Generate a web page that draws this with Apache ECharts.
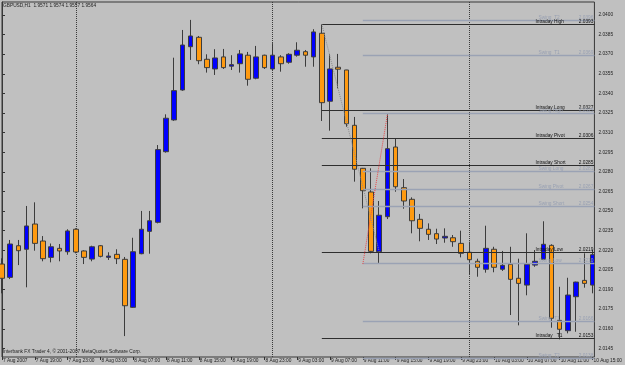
<!DOCTYPE html>
<html><head><meta charset="utf-8">
<script src="https://cdn.jsdelivr.net/npm/echarts@6/dist/echarts.min.js"></script>
<style>html,body{margin:0;padding:0;background:#C0C0C0}#c{width:625px;height:365px}</style>
</head><body><div id="c"></div>
<script>
// ---- data (GBPUSD H1, bars from 7 Aug 15:00 to 10 Aug 15:00) ----
const opens = [2.02095,2.01993,2.02235,2.02208,2.02401,2.02271,2.02146,2.02215,2.02189,2.02361,
2.02195,2.02133,2.02235,2.02146,2.02169,2.02131,2.01764,2.02174,2.02345,2.02414,
2.02954,2.03197,2.03426,2.03757,2.03829,2.03661,2.03587,2.03679,2.03608,2.03627,
2.03692,2.03516,2.03692,2.03587,2.03679,2.03638,2.03692,2.03719,2.03679,2.03860,
2.03340,2.03600,2.03579,2.03156,2.02827,2.02646,2.02189,2.02457,2.02990,2.02679,
2.02590,2.02437,2.02361,2.02327,2.02294,2.02296,2.02253,2.02185,2.02116,2.02055,
2.02208,2.02055,2.02093,2.01986,2.01934,2.02087,2.02131,2.02238,2.01664,2.01585,
2.01845,2.01970,2.01934];
const closes = [2.01986,2.02248,2.02197,2.02386,2.02253,2.02136,2.02227,2.02195,2.02348,2.02187,
2.02146,2.02227,2.02154,2.02156,2.02136,2.01776,2.02189,2.02361,2.02426,2.02970,
2.03210,2.03421,2.03770,2.03839,2.03650,2.03597,2.03671,2.03597,2.03620,2.03702,
2.03508,2.03679,2.03597,2.03692,2.03627,2.03699,2.03730,2.03692,2.03870,2.03329,
2.03587,2.03585,2.03168,2.02820,2.02656,2.02192,2.02468,2.02977,2.02686,2.02577,
2.02426,2.02368,2.02322,2.02286,2.02307,2.02266,2.02177,2.02128,2.02070,2.02215,
2.02070,2.02085,2.01978,2.01947,2.02093,2.02116,2.02246,2.01680,2.01596,2.01858,
2.01957,2.01947,2.02166];
const lows = [2.01871,2.01980,2.02087,2.01917,2.02197,2.02116,2.02108,2.02116,2.02166,2.02177,
2.02095,2.02116,2.02146,2.02126,2.02095,2.01544,2.01760,2.02170,2.02174,2.02406,
2.02947,2.03190,2.03420,2.03656,2.03623,2.03559,2.03541,2.03587,2.03579,2.03559,
2.03459,2.03508,2.03587,2.03580,2.03566,2.03627,2.03681,2.03604,2.03604,2.03189,
2.03115,2.03439,2.03145,2.02725,2.02521,2.02177,2.02101,2.02439,2.02648,2.02518,
2.02330,2.02269,2.02279,2.02248,2.02258,2.02227,2.02146,2.02011,2.01998,2.02029,
2.02032,2.02042,2.01705,2.01626,2.01856,2.02074,2.02125,2.01608,2.01519,2.01565,
2.01577,2.01914,2.01871];
const highs = [2.02139,2.02279,2.02279,2.02539,2.02567,2.02309,2.02252,2.02248,2.02361,2.02368,
2.02200,2.02235,2.02240,2.02185,2.02208,2.02149,2.02296,2.02501,2.02501,2.03005,
2.03240,2.03673,2.03885,2.03962,2.03839,2.03699,2.03738,2.03740,2.03692,2.03732,
2.03717,2.03763,2.03696,2.03784,2.03692,2.03707,2.03791,2.03732,2.03891,2.03929,
2.03699,2.03702,2.03580,2.03220,2.02830,2.02827,2.02577,2.03240,2.03057,2.02745,
2.02605,2.02478,2.02406,2.02365,2.02368,2.02317,2.02350,2.02266,2.02136,2.02388,
2.02227,2.02195,2.02227,2.02136,2.02330,2.02202,2.02422,2.02246,2.01921,2.01990,
2.01960,2.02177,2.02202];

const timeTickIdx = [0,4,8,12,16,20,24,28,32,36,40,44,48,52,56,60,64,68,72];
const timeTickLabels = ["7 Aug 2007","7 Aug 19:00","7 Aug 23:00","8 Aug 03:00","8 Aug 07:00",
"8 Aug 11:00","8 Aug 15:00","8 Aug 19:00","8 Aug 23:00","9 Aug 03:00","9 Aug 07:00",
"9 Aug 11:00","9 Aug 15:00","9 Aug 19:00","9 Aug 23:00","10 Aug 03:00","10 Aug 07:00",
"10 Aug 11:00","10 Aug 15:00"];
const priceTicks = [2.0145,2.0160,2.0175,2.0190,2.0205,2.0220,2.0235,2.0250,2.0265,
2.0280,2.0295,2.0310,2.0325,2.0340,2.0355,2.0370,2.0385,2.0400];
const daySeparators = [9,33,57];

const levelNames  = ["Swing  T2","Intraday High","Swing  T1","Intraday Long","Swing High",
"Intraday Pivot","Intraday Short","Swing Long","Swing Pivot","Swing Short",
"Intraday Low","Swing Low","Swing  T1","Intraday   T1","Swing  T2"];
const levelValues = [2.0396,2.0393,2.0369,2.0327,2.0325,2.0306,2.0285,2.0281,2.0267,2.0254,
2.0219,2.0210,2.0166,2.0153,2.0138];
const levelKinds  = ["s","i","s","i","s","i","i","s","s","s","i","s","s","i","s"];
const levelStart  = {i:39, s:44};

const redTrend  = [[44,2.02095],[47,2.03240]];
const grayTrend = [[39,2.03929],[46,2.02190]];

const titleText = "GBPUSD,H1  1.9571 1.9574 1.9557 1.9564";
const footText = "Interbank FX Trader 4, \u00A9 2001-2007 MetaQuotes Software Corp.";

// ---- chart ----
const X_MIN = 0, X_MAX = 72.24, Y_MIN = 2.01384, Y_MAX = 2.04099;
const FONT = '"Liberation Sans", Arial, sans-serif';
const candleData = opens.map((o,i)=>[i,o,closes[i],lows[i],highs[i]]);

const chart = echarts.init(document.getElementById('c'));
chart.setOption({
  animation:false,
  backgroundColor:'#C0C0C0',
  grid:{left:2,right:21,top:2,bottom:8,show:true,borderColor:'#383838',borderWidth:1,backgroundColor:'transparent'},
  xAxis:{type:'value',min:X_MIN,max:X_MAX,
    axisLine:{show:false},splitLine:{show:false},
    axisTick:{show:true,customValues:timeTickIdx,length:3,lineStyle:{color:'#333'}},
    axisLabel:{customValues:timeTickIdx,formatter:v=>timeTickLabels[timeTickIdx.indexOf(v)],
      showMinLabel:true,align:'left',fontSize:4.8,color:'#1e1e1e',margin:1,fontFamily:FONT,padding:[0,0,0,1]}},
  yAxis:{type:'value',position:'right',min:Y_MIN,max:Y_MAX,scale:true,
    axisLine:{show:true,lineStyle:{color:'#383838'}},splitLine:{show:false},
    axisTick:{show:true,customValues:priceTicks,length:3,lineStyle:{color:'#333'}},
    axisLabel:{customValues:priceTicks,formatter:v=>v.toFixed(4),fontSize:4.8,color:'#1e1e1e',margin:4,fontFamily:FONT}},
  graphic:[
    {type:'text',left:3,top:3,style:{text:titleText,fill:'#1e1e1e',font:'4.8px '+FONT}},
    {type:'text',left:3,top:349,style:{text:footText,fill:'#1e1e1e',font:'4.8px '+FONT}}
  ],
  series:[
    {type:'candlestick',data:candleData,barWidth:5,z:2,
      itemStyle:{color:'#0000FF',color0:'#FF9A10',borderColor:'#3c3c3c',borderColor0:'#3c3c3c',borderWidth:1},
      markLine:{silent:true,z:1,symbol:['none','none'],label:{show:false},animation:false,
        lineStyle:{type:'dotted',color:'#3a3a3a',width:1},
        data:daySeparators.map(d=>({xAxis:d}))}},
    {type:'custom',coordinateSystem:'cartesian2d',z:5,clip:false,
      data:levelValues.map((v,i)=>[levelStart[levelKinds[i]],v,i]),
      encode:{x:0,y:1},
      markLine:{silent:true,z:6,symbol:['none','none'],label:{show:false},animation:false,
        data:[
          [{coord:redTrend[0],lineStyle:{color:'#e8474a',type:'dotted',width:1}},{coord:redTrend[1]}],
          [{coord:grayTrend[0],lineStyle:{color:'#8c8c8c',type:'dotted',width:1}},{coord:grayTrend[1]}]
        ]},
      renderItem:(params,api)=>{
        const i = api.value(2);
        const p = api.coord([api.value(0),api.value(1)]);
        const cs = params.coordSys;
        const right = cs.x + cs.width;
        const dark = levelKinds[i]==='i';
        const y = Math.round(p[1]) + 0.5;
        return {type:'group',children:[
          {type:'line',shape:{x1:p[0],y1:y,x2:right,y2:y},
            style:{stroke:dark?'#2e2e2e':'#9aa2b4',lineWidth:dark?1:1.5}},
          {type:'text',x:right-(dark?59:56),y:y-0.5,
            style:{text:levelNames[i],fill:dark?'#111':'#98a0b2',font:'4.8px '+FONT,align:'left',verticalAlign:'bottom'}},
          {type:'text',x:right-1,y:y-0.5,
            style:{text:api.value(1).toFixed(4),fill:dark?'#111':'#98a0b2',font:'4.8px '+FONT,align:'right',verticalAlign:'bottom'}}
        ]};
      }}
  ]
});
</script></body></html>
